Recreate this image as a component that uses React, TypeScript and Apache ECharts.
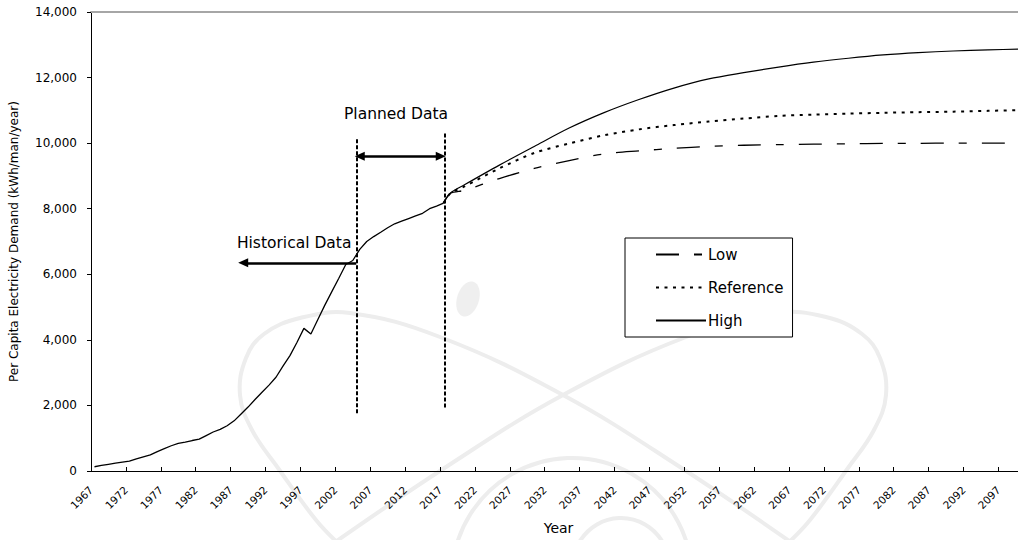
import React, { useEffect, useRef } from 'react';
import * as echarts from 'echarts';

// Historical + planned per-capita demand (kWh/man/year)
const historyYears = [
  1967, 1968, 1969, 1970, 1971, 1972, 1973, 1974, 1975, 1976, 1977, 1978, 1979, 1980, 1981, 1982, 1983,
  1984, 1985, 1986, 1987, 1988, 1989, 1990, 1991, 1992, 1993, 1994, 1995, 1996, 1997, 1998, 1999, 2000,
  2001, 2002, 2003, 2004, 2005, 2006, 2007, 2008, 2009, 2010, 2011, 2012, 2013, 2014, 2015, 2016, 2017,
];
const historyValues = [
  130, 170, 205, 240, 270, 300, 370, 430, 490, 590, 680, 770, 840, 880, 930, 970, 1080,
  1190, 1270, 1380, 1530, 1740, 1950, 2180, 2400, 2620, 2860, 3200, 3520, 3920, 4350, 4180, 4620, 5060,
  5470, 5880, 6300, 6420, 6760, 7000, 7150, 7280, 7420, 7540, 7620, 7700, 7780, 7860, 8000, 8080, 8170,
];

// Projection scenarios
const projectionYears = [2017, 2018, 2020, 2025, 2030, 2035, 2040, 2045, 2050, 2055, 2060, 2065, 2070, 2075, 2080, 2085, 2090, 2095, 2100];
const lowValues = [8170, 8470, 8560, 8920, 9230, 9470, 9670, 9765, 9840, 9900, 9935, 9955, 9970, 9980, 9990, 9995, 10000, 10000, 10000];
const referenceValues = [8170, 8470, 8680, 9230, 9700, 9990, 10240, 10420, 10550, 10660, 10750, 10830, 10870, 10900, 10925, 10945, 10960, 10985, 11010];
const highValues = [8170, 8480, 8730, 9330, 9900, 10460, 10930, 11330, 11680, 11960, 12150, 12320, 12470, 12590, 12690, 12760, 12810, 12845, 12870];

const yearTickLabels = [
  '1967', '1972', '1977', '1982', '1987', '1992', '1997', '2002', '2007', '2012', '2017', '2022', '2027', '2032',
  '2037', '2042', '2047', '2052', '2057', '2062', '2067', '2072', '2077', '2082', '2087', '2092', '2097',
];

// Annotation anchors (year, value)
const dividerYears = [2004.5, 2017.2];
const dividerRanges = [[1760, 10150], [1940, 10330]];
const historicalArrow = { from: 2004.5, to: 1988.3, value: 6350 };
const plannedArrow = { from: 2005.0, to: 2016.6, value: 9600 };
const historicalLabel = { text: 'Historical Data', year: 1987.4, value: 6950 };
const plannedLabel = { text: 'Planned Data', year: 2010.2, value: 10880 };

const FONT = 'DejaVu Sans';

export default function App() {
  const ref = useRef<HTMLDivElement>(null);

  useEffect(() => {
    const chart = echarts.init(ref.current as HTMLDivElement, null, { renderer: 'svg' });
    const tickValues = yearTickLabels.map((s) => Number(s) - 0.5);
    const pair = (xs: number[], ys: number[]) => xs.map((x, i) => [x, ys[i]]);

    const dashedStyle = { type: [4, 2], width: 2, color: '#000' };
    const arrowStyle = { type: 'solid', width: 2.5, color: '#000' };

    chart.setOption({
      animation: false,
      backgroundColor: '#fff',
      grid: { left: 91, right: 0, top: 12, bottom: 69, containLabel: false },
      legend: {
        data: ['Low', 'Reference', 'High'],
        orient: 'vertical',
        left: 625,
        top: 238,
        itemWidth: 50,
        itemHeight: 14,
        itemGap: 18,
        padding: [9, 9, 9, 30],
        borderColor: '#000',
        borderWidth: 1,
        borderRadius: 0,
        backgroundColor: '#fff',
        selectedMode: false,
        itemStyle: { opacity: 0 },
        textStyle: { fontFamily: FONT, fontSize: 15, color: '#000', padding: [0, 0, 0, -3] },
      },
      xAxis: [
        {
          type: 'value',
          min: 1966.5,
          max: 2099.3,
          position: 'bottom',
          name: 'Year',
          nameLocation: 'middle',
          nameGap: 50,
          nameTextStyle: { fontFamily: FONT, fontSize: 14, color: '#000', padding: [0, 0, 0, 8] },
          axisLine: { show: true, lineStyle: { color: '#000', width: 1 } },
          axisTick: { show: true, inside: true, length: 4, customValues: tickValues, lineStyle: { color: '#000' } },
          axisLabel: {
            customValues: tickValues,
            formatter: (v: number) => String(Math.round(v + 0.5)),
            rotate: 45,
            margin: 17,
            fontSize: 10.5,
            fontFamily: FONT,
            color: '#000',
          },
          splitLine: { show: false },
        },
        {
          type: 'value',
          min: 1966.5,
          max: 2099.3,
          position: 'top',
          axisLine: { show: true, lineStyle: { color: '#a6a6a6', width: 2 } },
          axisTick: { show: false },
          axisLabel: { show: false },
          splitLine: { show: false },
        },
      ],
      yAxis: {
        type: 'value',
        min: 0,
        max: 14000,
        interval: 2000,
        name: 'Per Capita Electricity Demand (kWh/man/year)',
        nameLocation: 'middle',
        nameGap: 71,
        nameTextStyle: { fontFamily: FONT, fontSize: 12, color: '#000' },
        axisLine: { show: true, lineStyle: { color: '#000', width: 1 } },
        axisTick: { show: true, length: 4, lineStyle: { color: '#000' } },
        axisLabel: {
          margin: 14,
          fontSize: 12,
          fontFamily: FONT,
          color: '#000',
          formatter: (v: number) => v.toLocaleString('en-US'),
        },
        splitLine: { show: false },
      },
      series: [
        {
          name: 'Historical',
          type: 'line',
          data: pair(historyYears, historyValues),
          symbol: 'none',
          lineStyle: { color: '#000', width: 1.3 },
          itemStyle: { color: '#000' },
          z: 5,
          markLine: {
            silent: true,
            animation: false,
            symbol: 'none',
            label: { show: false },
            data: [
              [
                { coord: [dividerYears[0], dividerRanges[0][0]], lineStyle: dashedStyle },
                { coord: [dividerYears[0], dividerRanges[0][1]] },
              ],
              [
                { coord: [dividerYears[1], dividerRanges[1][0]], lineStyle: dashedStyle },
                { coord: [dividerYears[1], dividerRanges[1][1]] },
              ],
              [
                { coord: [historicalArrow.from, historicalArrow.value], symbol: 'none', lineStyle: arrowStyle },
                { coord: [historicalArrow.to, historicalArrow.value], symbol: 'triangle', symbolSize: [9, 10] },
              ],
              [
                { coord: [plannedArrow.from, plannedArrow.value], symbol: 'triangle', symbolSize: [9, 10], lineStyle: arrowStyle },
                { coord: [plannedArrow.to, plannedArrow.value], symbol: 'triangle', symbolSize: [9, 10] },
              ],
            ],
          },
        },
        {
          name: 'Low',
          type: 'line',
          data: pair(projectionYears, lowValues),
          symbol: 'none',
          smooth: 0.3,
          lineStyle: { color: '#000', width: 1.3, type: [23, 15, 8, 15] },
          itemStyle: { color: '#000' },
        },
        {
          name: 'Reference',
          type: 'line',
          data: pair(projectionYears, referenceValues),
          symbol: 'none',
          smooth: 0.3,
          lineStyle: { color: '#000', width: 2, type: [3, 5.5] },
          itemStyle: { color: '#000' },
        },
        {
          name: 'High',
          type: 'line',
          data: pair(projectionYears, highValues),
          symbol: 'none',
          smooth: 0.3,
          lineStyle: { color: '#000', width: 1.2 },
          itemStyle: { color: '#000' },
        },
      ],
    });

    const toPx = (p: number[]) => chart.convertToPixel({ seriesIndex: 0 }, p) as number[];
    const hl = toPx([historicalLabel.year, historicalLabel.value]);
    const pl = toPx([plannedLabel.year, plannedLabel.value]);
    const wm = '#ededed';
    const wmLine = (points: number[][]) => ({
      type: 'polyline', silent: true, z: -10,
      shape: { points, smooth: 0.4 },
      style: { fill: 'none', stroke: wm, lineWidth: 4 },
    });

    chart.setOption({
      graphic: [
        // faint watermark (atom logo) in the background
        wmLine([[340, 545], [316, 520], [278, 468], [252, 430], [240, 395], [246, 358], [264, 334], [300, 318], [350, 313], [440, 337], [563, 395], [680, 467], [795, 545]]),
        wmLine([[331, 545], [446, 467], [563, 395], [686, 337], [776, 313], [826, 317], [862, 334], [880, 358], [886, 395], [874, 430], [848, 468], [810, 520], [786, 545]]),
        { type: 'circle', x: 572, y: 578, silent: true, z: -10, shape: { cx: 0, cy: 0, r: 120 }, style: { fill: 'none', stroke: wm, lineWidth: 4 } },
        { type: 'circle', x: 621, y: 566, silent: true, z: -10, shape: { cx: 0, cy: 0, r: 48 }, style: { fill: 'none', stroke: wm, lineWidth: 4 } },
        { type: 'ellipse', x: 468, y: 299, rotation: -0.3, silent: true, z: -10, shape: { cx: 0, cy: 0, rx: 11, ry: 18 }, style: { fill: '#efefef' } },
        {
          type: 'text', x: hl[0], y: hl[1], z: 20, silent: true,
          style: { text: historicalLabel.text, fontFamily: FONT, fontSize: 15.5, fill: '#000', align: 'left', verticalAlign: 'middle' },
        },
        {
          type: 'text', x: pl[0], y: pl[1], z: 20, silent: true,
          style: { text: plannedLabel.text, fontFamily: FONT, fontSize: 15.5, fill: '#000', align: 'center', verticalAlign: 'middle' },
        },
      ],
    });

    return () => chart.dispose();
  }, []);

  return <div ref={ref} style={{ position: 'absolute', left: 0, top: 0, width: 1018, height: 540 }} />;
}
